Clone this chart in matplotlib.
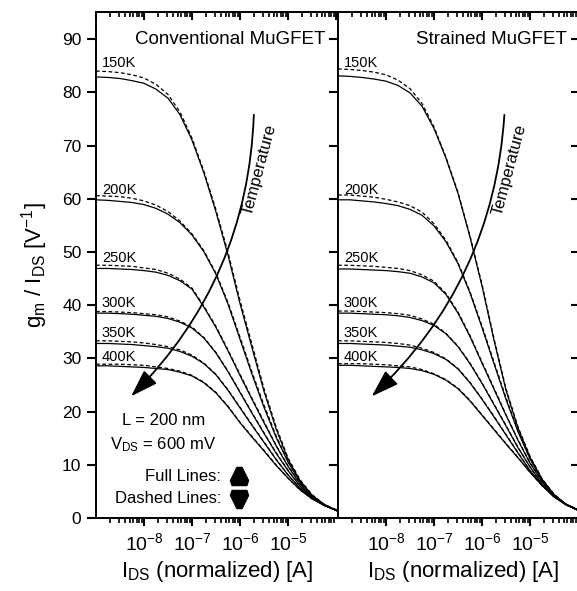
import matplotlib
matplotlib.use('Agg')
import matplotlib.pyplot as plt
from matplotlib.patches import FancyArrowPatch
from matplotlib.path import Path
from matplotlib.ticker import NullFormatter, MultipleLocator, FixedLocator

plt.rcParams['font.family'] = ['Liberation Sans', 'DejaVu Sans']
plt.rcParams['mathtext.default'] = 'regular'

# log10 of the drain currents the curves were read at
ids_log = [-9, -8.75, -8.5, -8.25, -8, -7.75, -7.5, -7.25, -7, -6.75, -6.5,
           -6.25, -6, -5.75, -5.5, -5.25, -5, -4.75, -4.5, -4.25, -3.96]
ids = [10 ** g for g in ids_log]

temps = ['150K', '200K', '250K', '300K', '350K', '400K']
label_y = [85.5, 61.6, 48.8, 40.4, 34.8, 30.3]

# conventional MuGFET, full lines
conv_full_150 = [82.9, 82.8, 82.6, 82.2, 81.7, 80.6, 78.9, 75.8, 71.0, 64.8, 57.5, 49.4, 40.3, 32.0, 23.8, 16.8, 11.0, 7.0, 4.3, 2.6, 1.3]
conv_full_200 = [59.8, 59.7, 59.5, 59.3, 58.9, 58.2, 57.1, 55.5, 53.2, 50.0, 45.8, 40.2, 33.6, 27.0, 20.8, 15.2, 10.5, 6.8, 4.1, 2.4, 1.3]
conv_full_250 = [46.9, 46.9, 46.8, 46.7, 46.5, 46.2, 45.6, 44.6, 43.0, 39.6, 35.8, 31.4, 26.8, 22.3, 17.9, 13.6, 9.7, 6.4, 3.9, 2.4, 1.3]
conv_full_300 = [38.5, 38.5, 38.4, 38.3, 38.1, 37.9, 37.5, 36.8, 35.7, 33.8, 31.0, 27.5, 23.6, 19.7, 15.9, 12.2, 8.9, 6.0, 3.8, 2.4, 1.3]
conv_full_350 = [32.8, 32.8, 32.7, 32.6, 32.4, 32.2, 31.9, 31.3, 30.4, 29.0, 26.9, 24.0, 20.7, 17.4, 14.2, 11.0, 8.1, 5.6, 3.7, 2.4, 1.3]
conv_full_400 = [28.6, 28.6, 28.5, 28.4, 28.3, 28.1, 27.9, 27.4, 26.7, 25.4, 23.5, 20.9, 17.9, 15.2, 12.6, 9.9, 7.5, 5.3, 3.6, 2.4, 1.4]

# conventional MuGFET, dashed lines
conv_dash_150 = [84.0, 83.9, 83.7, 83.3, 82.7, 81.5, 79.6, 76.3, 71.4, 65.1, 57.9, 49.9, 40.9, 32.6, 24.3, 17.2, 11.3, 7.2, 4.4, 2.6, 1.4]
conv_dash_200 = [60.6, 60.5, 60.4, 60.1, 59.6, 58.8, 57.6, 55.8, 53.4, 50.2, 46.0, 40.5, 34.0, 27.4, 21.2, 15.5, 10.7, 6.9, 4.2, 2.4, 1.3]
conv_dash_250 = [47.5, 47.5, 47.4, 47.3, 47.0, 46.7, 46.0, 44.9, 43.2, 39.8, 36.0, 31.6, 27.0, 22.5, 18.1, 13.7, 9.8, 6.5, 3.9, 2.4, 1.3]
conv_dash_300 = [38.8, 38.8, 38.7, 38.6, 38.4, 38.2, 37.8, 37.0, 35.9, 33.9, 31.1, 27.6, 23.7, 19.8, 16.0, 12.3, 9.0, 6.0, 3.8, 2.4, 1.3]
conv_dash_350 = [33.3, 33.3, 33.2, 33.1, 32.9, 32.6, 32.2, 31.6, 30.6, 29.1, 27.0, 24.1, 20.8, 17.5, 14.3, 11.1, 8.1, 5.6, 3.7, 2.4, 1.3]
conv_dash_400 = [28.9, 28.9, 28.9, 28.8, 28.7, 28.4, 28.1, 27.6, 26.8, 25.5, 23.6, 21.0, 18.0, 15.3, 12.7, 10.0, 7.5, 5.3, 3.6, 2.4, 1.4]

# strained MuGFET, full lines
str_full_150 = [83.1, 83.0, 82.8, 82.5, 82.1, 81.3, 79.9, 77.4, 73.2, 67.6, 61.0, 52.8, 43.6, 33.4, 24.0, 16.9, 11.4, 7.3, 4.4, 2.6, 1.3]
str_full_200 = [59.8, 59.8, 59.6, 59.4, 59.1, 58.7, 58.0, 56.9, 54.9, 51.9, 47.8, 42.3, 35.8, 29.0, 22.3, 16.2, 11.1, 7.1, 4.3, 2.5, 1.3]
str_full_250 = [46.8, 46.8, 46.7, 46.6, 46.5, 46.3, 46.0, 45.3, 44.2, 42.0, 38.5, 34.1, 29.1, 24.2, 19.3, 14.6, 10.3, 6.8, 4.1, 2.5, 1.3]
str_full_300 = [38.5, 38.5, 38.4, 38.3, 38.2, 38.0, 37.7, 37.1, 36.2, 34.6, 32.2, 29.0, 25.3, 21.3, 17.3, 13.2, 9.6, 6.4, 4.0, 2.5, 1.3]
str_full_350 = [32.8, 32.8, 32.7, 32.6, 32.5, 32.3, 32.1, 31.6, 30.9, 29.8, 28.0, 25.4, 22.3, 19.0, 15.6, 12.2, 8.9, 6.2, 4.0, 2.5, 1.3]
str_full_400 = [28.7, 28.7, 28.6, 28.5, 28.4, 28.3, 28.1, 27.7, 27.0, 25.9, 24.3, 22.0, 19.3, 16.6, 13.9, 11.3, 8.6, 6.1, 4.0, 2.6, 1.4]

# strained MuGFET, dashed lines
str_dash_150 = [84.4, 84.3, 84.1, 83.8, 83.3, 82.3, 80.7, 77.9, 73.5, 67.8, 61.2, 53.0, 43.9, 33.7, 24.3, 17.1, 11.6, 7.4, 4.5, 2.6, 1.4]
str_dash_200 = [60.7, 60.7, 60.5, 60.3, 59.9, 59.4, 58.7, 57.5, 55.3, 52.2, 48.0, 42.5, 36.1, 29.3, 22.6, 16.4, 11.2, 7.2, 4.3, 2.5, 1.3]
str_dash_250 = [47.5, 47.5, 47.4, 47.3, 47.1, 46.9, 46.5, 45.7, 44.5, 42.2, 38.7, 34.3, 29.3, 24.4, 19.4, 14.7, 10.4, 6.9, 4.1, 2.5, 1.3]
str_dash_300 = [38.9, 38.9, 38.8, 38.7, 38.6, 38.4, 38.1, 37.4, 36.4, 34.7, 32.3, 29.1, 25.4, 21.4, 17.4, 13.3, 9.6, 6.4, 4.0, 2.5, 1.3]
str_dash_350 = [33.3, 33.3, 33.2, 33.1, 33.0, 32.8, 32.5, 31.9, 31.1, 29.9, 28.1, 25.5, 22.4, 19.1, 15.7, 12.3, 8.9, 6.2, 4.0, 2.5, 1.3]
str_dash_400 = [29.0, 29.0, 29.0, 28.9, 28.8, 28.6, 28.4, 27.9, 27.1, 26.0, 24.4, 22.1, 19.4, 16.7, 14.0, 11.4, 8.6, 6.1, 4.0, 2.6, 1.4]

conv_full = [conv_full_150, conv_full_200, conv_full_250, conv_full_300, conv_full_350, conv_full_400]
conv_dash = [conv_dash_150, conv_dash_200, conv_dash_250, conv_dash_300, conv_dash_350, conv_dash_400]
str_full = [str_full_150, str_full_200, str_full_250, str_full_300, str_full_350, str_full_400]
str_dash = [str_dash_150, str_dash_200, str_dash_250, str_dash_300, str_dash_350, str_dash_400]

W, H = 577, 591
XLIM = (1e-9, 1.1e-4)
YLIM = (0, 95.1)
major_x = [1e-9, 1e-8, 1e-7, 1e-6, 1e-5, 1e-4]
minor_x = [m * 10.0 ** e for e in range(-9, -4) for m in range(2, 10)]

fig = plt.figure(figsize=(W / 100, H / 100), dpi=100)
ax1 = fig.add_axes([96 / W, 1 - 518 / H, 242 / W, 506 / H])
ax2 = fig.add_axes([338 / W, 1 - 518 / H, 242 / W, 506 / H])


def setup_axes(ax, left_ticks):
    ax.set_xscale('log')
    ax.set_xlim(XLIM)
    ax.set_ylim(YLIM)
    for s in ax.spines.values():
        s.set_linewidth(1.4)
    ax.xaxis.set_major_locator(FixedLocator([1e-8, 1e-7, 1e-6, 1e-5]))
    ax.xaxis.set_minor_locator(FixedLocator(minor_x))
    ax.xaxis.set_minor_formatter(NullFormatter())
    ax.yaxis.set_major_locator(MultipleLocator(10))
    ax.tick_params(axis='x', which='major', direction='out', length=6, width=1.5,
                   labelsize=14, pad=4, top=False)
    ax.tick_params(axis='x', which='minor', direction='out', length=3.5, width=1.2, top=False)

    top = ax.secondary_xaxis('top')
    top.xaxis.set_major_locator(FixedLocator(major_x))
    top.xaxis.set_minor_locator(FixedLocator(minor_x))
    top.xaxis.set_major_formatter(NullFormatter())
    top.xaxis.set_minor_formatter(NullFormatter())
    top.tick_params(axis='x', which='major', direction='in', length=6, width=1.5)
    top.tick_params(axis='x', which='minor', direction='in', length=3.5, width=1.2)
    top.spines['top'].set_linewidth(1.4)

    if left_ticks:
        ax.tick_params(axis='y', direction='out', length=6.5, width=1.5,
                       labelsize=12.5, pad=4, right=False)
        right = ax.secondary_yaxis('right')
        right.yaxis.set_major_locator(MultipleLocator(10))
        right.yaxis.set_major_formatter(NullFormatter())
        right.tick_params(axis='y', direction='in', length=6.5, width=1.5)
        right.spines['right'].set_linewidth(1.4)
    else:
        ax.yaxis.tick_right()
        ax.tick_params(axis='y', direction='in', length=6.5, width=1.5,
                       labelright=False)


tri_up = Path([(-0.28, 1), (0.28, 1), (1, -0.45), (0.82, -1), (-0.82, -1), (-1, -0.45), (-0.28, 1)],
              [Path.MOVETO] + [Path.LINETO] * 5 + [Path.CLOSEPOLY])
tri_dn = Path([(-0.28, -1), (0.28, -1), (1, 0.45), (0.82, 1), (-0.82, 1), (-1, 0.45), (-0.28, -1)],
              [Path.MOVETO] + [Path.LINETO] * 5 + [Path.CLOSEPOLY])

panels = [(ax1, conv_full, conv_dash, 'Conventional MuGFET', (10 ** -5.71, 10 ** -8.31), 10 ** -5.59),
          (ax2, str_full, str_dash, 'Strained MuGFET', (10 ** -5.53, 10 ** -8.34), 10 ** -5.42)]

for ax, full, dash, title, arrow_x, temp_x in panels:
    setup_axes(ax, ax is ax1)
    for yf, yd in zip(full, dash):
        ax.plot(ids, yd, color='black', lw=0.9, ls=(0, (3, 2)))
        ax.plot(ids, yf, color='black', lw=0.9)
    for t, ly in zip(temps, label_y):
        ax.text(10 ** -8.88, ly, t, fontsize=10.5, ha='left', va='center')
    ax.text(0.946, 90, title, transform=ax.get_yaxis_transform(), fontsize=13.5,
            ha='right', va='center')
    arr = FancyArrowPatch((arrow_x[0], 76.3), (arrow_x[1], 22.5),
                          connectionstyle='arc3,rad=-0.2',
                          arrowstyle='-|>,head_length=0.85,head_width=0.28',
                          mutation_scale=20, lw=1.3, color='black')
    ax.add_patch(arr)
    ax.text(temp_x, 65.4, 'Temperature', fontsize=12, rotation=75,
            ha='center', va='center')

ax1.text(10 ** -7.6, 18.4, 'L = 200 nm', fontsize=12, ha='center', va='center')
ax1.text(10 ** -7.6, 13.7, r'V$_{DS}$ = 600 mV', fontsize=12, ha='center', va='center')
ax1.text(10 ** -6.40, 7.8, 'Full Lines:', fontsize=12, ha='right', va='center')
ax1.text(10 ** -6.38, 3.6, 'Dashed Lines:', fontsize=12, ha='right', va='center')
ax1.plot([10 ** -6.02], [7.8], marker=tri_up, ms=13, color='black')
ax1.plot([10 ** -6.02], [3.6], marker=tri_dn, ms=13, color='black')

fig.text(35 / W, 1 - 265 / H, r'g$_m$ / I$_{DS}$ [V$^{-1}$]', fontsize=16,
         rotation=90, ha='center', va='center')
fig.text(217 / W, 1 - 571 / H, r'I$_{DS}$ (normalized) [A]', fontsize=16,
         ha='center', va='center')
fig.text(463 / W, 1 - 571 / H, r'I$_{DS}$ (normalized) [A]', fontsize=16,
         ha='center', va='center')

fig.savefig('out.png', dpi=100)
